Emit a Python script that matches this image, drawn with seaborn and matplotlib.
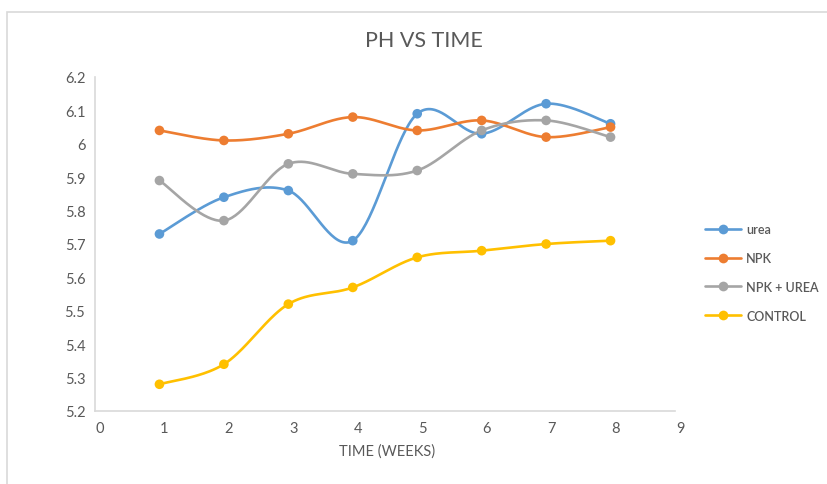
import numpy as np
import pandas as pd
import matplotlib
matplotlib.use("Agg")
import matplotlib.pyplot as plt
from matplotlib.lines import Line2D
from matplotlib.patches import Rectangle
from matplotlib.transforms import ScaledTranslation
import seaborn as sns

# pH readings per week for each soil treatment
weeks = [1, 2, 3, 4, 5, 6, 7, 8]
urea = [5.73, 5.84, 5.86, 5.71, 6.09, 6.03, 6.12, 6.06]
npk = [6.04, 6.01, 6.03, 6.08, 6.04, 6.07, 6.02, 6.05]
npk_urea = [5.89, 5.77, 5.94, 5.91, 5.92, 6.04, 6.07, 6.02]
control = [5.28, 5.34, 5.52, 5.57, 5.66, 5.68, 5.70, 5.71]

series_names = ["urea", "NPK", "NPK + UREA", "CONTROL"]
series_colors = ["#5B9BD5", "#ED7D31", "#A5A5A5", "#FFC000"]
x_ticks = [0, 1, 2, 3, 4, 5, 6, 7, 8, 9]
y_ticks = [5.2, 5.3, 5.4, 5.5, 5.6, 5.7, 5.8, 5.9, 6.0, 6.1, 6.2]

TEXT = "#595959"
GRID = "#D9D9D9"


def smooth_curve(x, y, n=40):
    """Cubic Bezier (Catmull-Rom style) curve through every point."""
    pts = np.column_stack([x, y]).astype(float)
    padded = np.vstack([pts[0], pts, pts[-1]])
    parts = []
    t = np.linspace(0.0, 1.0, n)[:, None]
    for i in range(len(pts) - 1):
        p0, p1, p2, p3 = padded[i], padded[i + 1], padded[i + 2], padded[i + 3]
        c1 = p1 + (p2 - p0) / 6.0
        c2 = p2 - (p3 - p1) / 6.0
        seg = ((1 - t) ** 3) * p1 + 3 * ((1 - t) ** 2) * t * c1 \
            + 3 * (1 - t) * (t ** 2) * c2 + (t ** 3) * p2
        parts.append(seg if i == 0 else seg[1:])
    return np.vstack(parts)


sns.set_theme(style="white")
plt.rcParams["font.family"] = ["Lato", "DejaVu Sans"]

fig = plt.figure(figsize=(8.28, 4.85), dpi=100)
ax = fig.add_axes([95 / 828, 1 - 412 / 485, 580 / 828, 334 / 485])

data = pd.DataFrame({"week": weeks, "urea": urea, "NPK": npk,
                     "NPK + UREA": npk_urea, "CONTROL": control})

for name, color in zip(series_names, series_colors):
    curve = smooth_curve(data["week"], data[name])
    sns.lineplot(x=curve[:, 0], y=curve[:, 1], sort=False, estimator=None,
                 color=color, linewidth=1.9, ax=ax, legend=False)
    sns.scatterplot(x=data["week"], y=data[name], color=color, s=48,
                    edgecolor="none", linewidth=0, ax=ax, legend=False,
                    zorder=3)

ax.set_xlim(0, 9)
ax.set_ylim(5.2, 6.2)
ax.set_xticks(x_ticks)
ax.set_xticklabels([f"{v:g}" for v in x_ticks])
ax.set_yticks(y_ticks)
ax.set_yticklabels([f"{v:g}" for v in y_ticks])
ax.tick_params(axis="both", length=0, labelsize=10.5, labelcolor=TEXT)
ax.tick_params(axis="x", pad=7)
ax.tick_params(axis="y", pad=7)
# category-style labels sit a few pixels right of their tick position
shift = ScaledTranslation(5 / 100, 0, fig.dpi_scale_trans)
for lab in ax.get_xticklabels():
    lab.set_transform(lab.get_transform() + shift)
ax.set_xlabel("")
ax.set_ylabel("")
for side in ["top", "right"]:
    ax.spines[side].set_visible(False)
for side in ["left", "bottom"]:
    ax.spines[side].set_color(GRID)
    ax.spines[side].set_linewidth(1.2)

fig.text(424 / 828, 1 - 41 / 485, "PH VS TIME", ha="center", va="center",
         fontsize=15.5, color=TEXT)
fig.text(387 / 828, 1 - 452 / 485, "TIME (WEEKS)", ha="center", va="center",
         fontsize=10.5, color=TEXT)

handles = [Line2D([0], [0], color=c, lw=1.9, marker="o", markersize=7,
                  markeredgewidth=0) for c in series_colors]
fig.legend(handles, series_names, loc="upper left",
           bbox_to_anchor=(705 / 828, 1 - 224 / 485), frameon=False,
           fontsize=9, labelcolor=TEXT, handlelength=2.9,
           handletextpad=0.4, labelspacing=1.35, borderpad=0,
           borderaxespad=0, prop={"size": 9, "weight": "semibold"})

fig.add_artist(Rectangle((7 / 828, -0.1), 1.2, 1 - 13 / 485 + 0.1,
                         transform=fig.transFigure, fill=False,
                         edgecolor=GRID, linewidth=1.2))

fig.savefig("out.png", dpi=100)
